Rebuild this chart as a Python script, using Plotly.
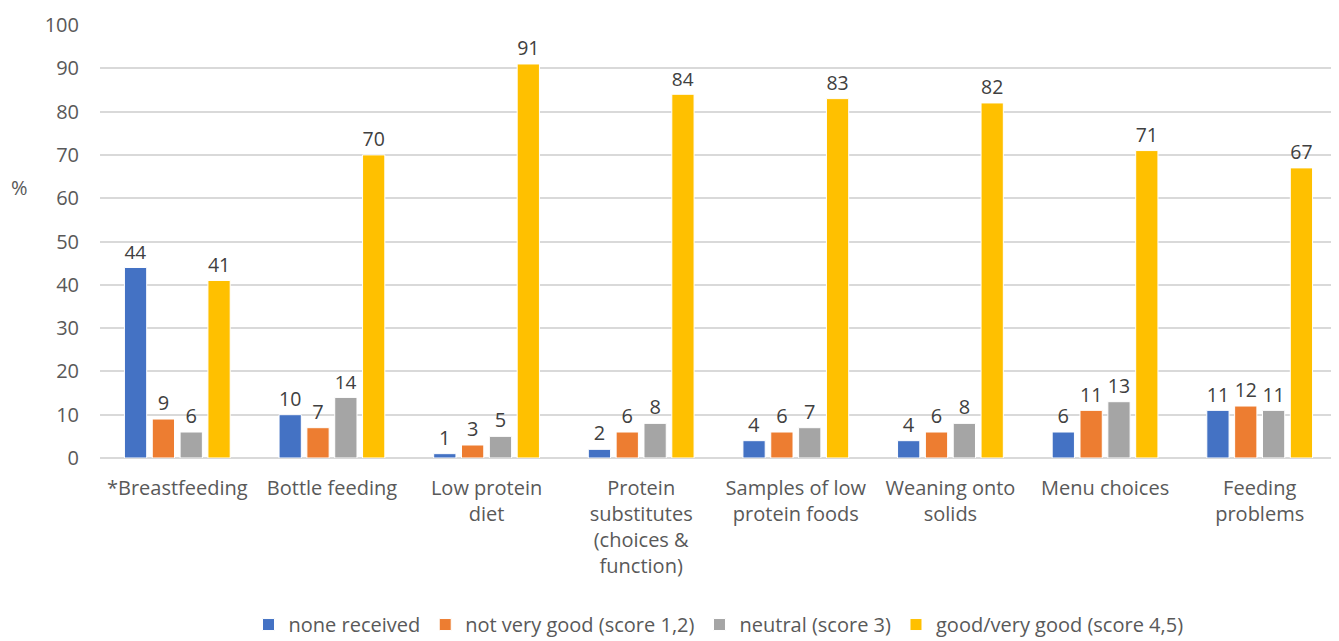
import plotly.graph_objects as go

categories = ["*Breastfeeding", "Bottle feeding", "Low protein<br>diet",
              "Protein<br>substitutes<br>(choices &<br>function)",
              "Samples of low<br>protein foods", "Weaning onto<br>solids",
              "Menu choices", "Feeding<br>problems"]
series_names = ["none received", "not very good (score 1,2)", "neutral (score 3)",
                "good/very good (score 4,5)"]
none_received = [44, 10, 1, 2, 4, 4, 6, 11]
not_very_good = [9, 7, 3, 6, 6, 6, 11, 12]
neutral = [6, 14, 5, 8, 7, 8, 13, 11]
good = [41, 70, 91, 84, 83, 82, 71, 67]
colors = ["#4472C4", "#ED7D31", "#A5A5A5", "#FFC000"]
y_ticks = [0, 10, 20, 30, 40, 50, 60, 70, 80, 90, 100]

FONT = "Open Sans, Liberation Sans, sans-serif"
fig = go.Figure()
for name, vals, col in zip(series_names, [none_received, not_very_good, neutral, good], colors):
    fig.add_trace(go.Bar(
        x=categories, y=vals, name=name,
        marker=dict(color=col, line=dict(color="white", width=1)),
        text=[str(v) for v in vals], textposition="outside",
        textfont=dict(size=20, color="#404040", family=FONT),
        cliponaxis=False,
    ))

fig.update_layout(
    width=1331, height=633,
    margin=dict(l=92, r=2, t=17, b=183, autoexpand=False),
    paper_bgcolor="white", plot_bgcolor="white",
    barmode="group", bargap=0.28, bargroupgap=0.2,
    font=dict(family=FONT, size=20, color="#595959"),
    showlegend=True,
    legend=dict(orientation="h", x=0.5, xanchor="center", yref="container", y=0.026,
                yanchor="middle", font=dict(size=20, color="#595959"),
                itemwidth=30, traceorder="normal"),
    xaxis=dict(showgrid=False, showline=False, ticks="", tickangle=0,
               ticklabelstandoff=16, automargin=False,
               tickfont=dict(size=20, color="#595959")),
    yaxis=dict(range=[0, 100], tickvals=y_ticks, showgrid=True, gridcolor="#D9D9D9",
               gridwidth=1.5, zeroline=True, zerolinecolor="#D9D9D9", zerolinewidth=1.5,
               showline=False, ticks="", ticklabelstandoff=20, automargin=False,
               tickfont=dict(size=20, color="#595959")),
    annotations=[dict(text="%", xref="paper", yref="paper", x=-0.0647, y=0.624,
                      xanchor="center", yanchor="middle", showarrow=False,
                      font=dict(size=20, color="#595959"))],
)
fig.write_html("out.html")
